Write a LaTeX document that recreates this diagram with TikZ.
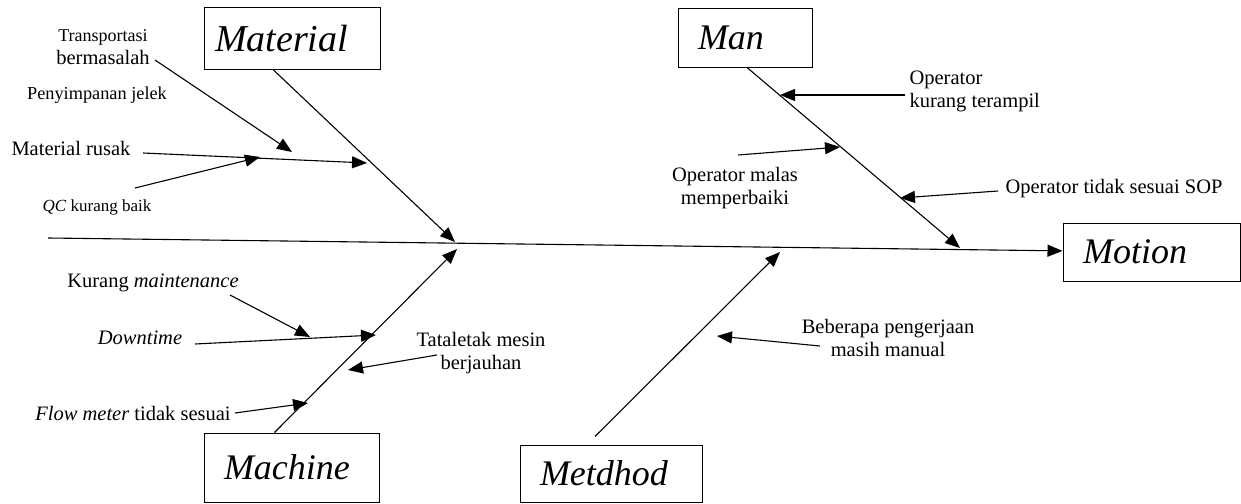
\documentclass[tikz,border=0pt]{standalone}
\usepackage{fontspec}
\setmainfont{Liberation Serif}
\usetikzlibrary{positioning}
\usetikzlibrary{arrows.meta}

\begin{document}
\begin{tikzpicture}[x=1pt,y=-1pt,line width=1.1pt,
      cat style/.style={rectangle,draw=black,line width=1pt,text width=#1,
        align=left,inner xsep=20pt,inner ysep=0pt,
        font=\fontsize{36}{40}\selectfont\itshape},
      cause style/.style={align=center,inner sep=0pt,
        font=\fontsize{20.5}{23}\selectfont},
      arr/.style={-{Triangle[length=15pt,width=12pt]}}
      ]
      \useasboundingbox (0,0) rectangle (1241,503);

      % category boxes
      \node[cat style=154pt, inner xsep=11pt, minimum height=61pt,
        font=\fontsize{38}{42}\selectfont\itshape] (material) at (292,38.5) {Material};
      \node[cat style=94pt, minimum height=58pt] (man) at (745,38) {Man};
      \node[cat style=137pt, minimum height=58pt] (motion) at (1151.5,252) {Motion};
      \node[cat style=135pt, minimum height=69pt] (machine) at (291.5,467.5) {Machine};
      \node[cat style=142pt, minimum height=57pt] (metdhod) at (611,473.5) {Metdhod};

      % causes
      \node[cause style] (transport) at (103,47) {{\fontsize{18}{22}\selectfont Transportasi}\\bermasalah};
      \node[cause style, font=\fontsize{18.3}{22}\selectfont] (storage) at (97,95) {Penyimpanan jelek};
      \node[cause style] (broken) at (71,148) {Material rusak};
      \node[cause style, font=\fontsize{17}{21}\selectfont] (qc) at (97,207) {\textit{QC} kurang baik};
      \node[cause style, align=left, anchor=west] (unskilled) at (909,91.5) {Operator\\kurang terampil};
      \node[cause style] (lazy) at (735,188) {Operator malas\\memperbaiki};
      \node[cause style] (sop) at (1114,189) {Operator tidak sesuai SOP};
      \node[cause style] (maint) at (153,283) {Kurang \textit{maintenance}};
      \node[cause style] (down) at (140,338) {\textit{Downtime}};
      \node[cause style] (layout) at (481,353) {Tataletak mesin\\berjauhan};
      \node[cause style] (flow) at (133,413) {\textit{Flow meter} tidak sesuai};
      \node[cause style] (manual) at (888,338) {Beberapa pengerjaan\\masih manual};

      % spine and bone ends
      \coordinate (tail) at (48,238);
      \coordinate (jmat) at (455,242);
      \coordinate (jmac) at (457,249);
      \coordinate (jmet) at (780,252);
      \coordinate (jman) at (960,248);

      % free ends of the cause arrows
      \coordinate (t1) at (155,60);   \coordinate (h1) at (292,152);
      \coordinate (t2) at (143,153);  \coordinate (h2) at (367,163);
      \coordinate (t3) at (135,188);  \coordinate (h3) at (260,157);
      \coordinate (t4) at (905,95);   \coordinate (h4) at (780,95);
      \coordinate (t5) at (738,155);  \coordinate (h5) at (840,147);
      \coordinate (t6) at (998,191);  \coordinate (h6) at (900,198);
      \coordinate (t7) at (230,295);  \coordinate (h7) at (310,337);
      \coordinate (t8) at (195,344);  \coordinate (h8) at (376,335);
      \coordinate (t9) at (437,355);  \coordinate (h9) at (348,370);
      \coordinate (t10) at (235,413); \coordinate (h10) at (308,403);
      \coordinate (t11) at (820,346); \coordinate (h11) at (717,336);

      \draw[arr] (tail) -- (motion);
      \draw[arr] ([xshift=-19pt]material.south) -- (jmat);
      \draw[arr] ([xshift=2pt]man.south) -- (jman);
      \draw[arr] ([xshift=-17pt]machine.north) -- (jmac);
      \draw[arr] ([xshift=-16pt,yshift=8pt]metdhod.north) -- (jmet);

      \draw[arr] (t1) -- (h1);
      \draw[arr] (t2) -- (h2);
      \draw[arr] (t3) -- (h3);
      \draw[arr] (t4) -- (h4);
      \draw[arr] (t5) -- (h5);
      \draw[arr] (t6) -- (h6);
      \draw[arr] (t7) -- (h7);
      \draw[arr] (t8) -- (h8);
      \draw[arr] (t9) -- (h9);
      \draw[arr] (t10) -- (h10);
      \draw[arr] (t11) -- (h11);
    \end{tikzpicture}
\end{document}
